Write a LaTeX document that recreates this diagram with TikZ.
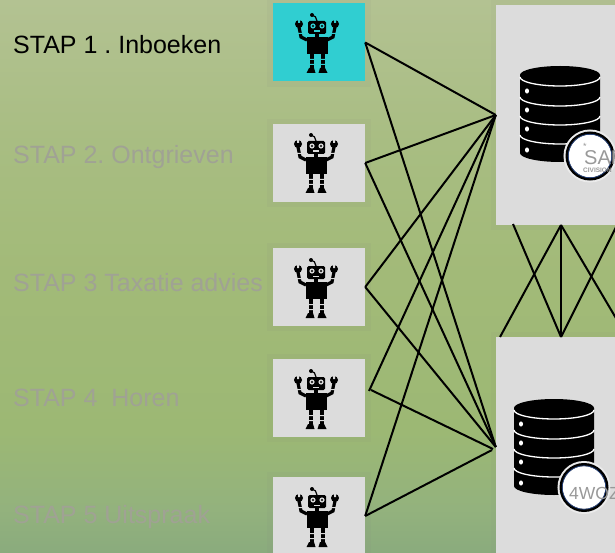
\documentclass[tikz,border=0pt]{standalone}
\usepackage{fontspec}
\setmainfont{Liberation Sans}
\usetikzlibrary{shadows}
\definecolor{stapgrey}{RGB}{220,220,220}
\definecolor{stapcyan}{RGB}{48,206,209}
\definecolor{fadetext}{RGB}{160,162,148}
\definecolor{badgeblue}{RGB}{40,70,130}
\definecolor{backa}{RGB}{138,171,125}
\definecolor{backb}{RGB}{147,178,125}
\definecolor{backc}{RGB}{156,184,116}
\definecolor{backd}{RGB}{162,186,120}
\definecolor{backe}{RGB}{168,189,130}
\definecolor{backf}{RGB}{179,194,146}
\pgfdeclareverticalshading{stapback}{100bp}{
  color(0bp)=(backa);
  color(25bp)=(backa);
  color(29bp)=(backb);
  color(36bp)=(backc);
  color(50bp)=(backd);
  color(62bp)=(backe);
  color(75bp)=(backf);
  color(100bp)=(backf)}
\tikzset{
  stapbox/.style={fill=stapgrey,minimum width=92pt,minimum height=78pt,inner sep=0pt,drop shadow={opacity=0.07,shadow xshift=0pt,shadow yshift=0pt,shadow scale=1.14}},
  dbbox/.style={fill=stapgrey,minimum width=220pt,minimum height=220pt,inner sep=0pt,drop shadow={opacity=0.06,shadow xshift=0pt,shadow yshift=0pt,shadow scale=1.05}},
  staptext/.style={anchor=west,inner sep=0pt,font=\fontsize{25}{28}\selectfont,text=fadetext},
  badgetext/.style={anchor=west,inner sep=0pt,text=black!40},
  link/.style={draw=black,line width=2pt},
  badge/.style={circle,draw=black,line width=3pt,fill=white,minimum size=46pt,inner sep=0pt,preaction={draw=white!92!black,line width=7pt}},
  badgein/.style={circle,draw=badgeblue,line width=0.7pt,minimum size=43.5pt,inner sep=0pt},
  pics/robot/.style={code={
    \fill[black] (-10.5,-6) rectangle (10.5,11);
    \fill[black,rounded corners=1.5pt] (-9,-22) rectangle (9,-9);
    \fill[black] (-2,-9) rectangle (2,-6);
    \draw[black,line width=1.2pt] (0,-22) to[out=100,in=0] (-5,-28);
    \fill[black] (-5,-28) circle (2pt);
    \fill[#1] (-4,-17) circle (2.6pt) (5,-17) circle (2.6pt);
    \fill[black] (-4,-17) circle (1.1pt) (5,-17) circle (1.1pt);
    \fill[#1] (-3,-12.5) rectangle (3,-10.8);
    \draw[black,line width=3.2pt] (-10,-3) -- (-16,-6) -- (-18,-16);
    \draw[black,line width=3.2pt] (10,-3) -- (16,-6) -- (18,-16);
    \fill[black] (-18,-19) circle (4pt) (18,-19) circle (4pt);
    \fill[#1] (-19,-25) rectangle (-17,-20) (17,-25) rectangle (19,-20);
    \fill[#1] (-20,-10) rectangle (-14,-9) (14,-10) rectangle (20,-9);
    \draw[black,line width=4pt] (-5,11) -- (-5,26) (6,11) -- (6,26);
    \fill[#1] (-7,16) rectangle (-3,17) (4,16) rectangle (8,17);
    \fill[#1] (-7,21) rectangle (-3,22) (4,21) rectangle (8,22);
    \fill[black] (-10.5,30) -- (-8,25) -- (-3,25) -- (-1.5,30) -- cycle;
    \fill[black] (1.5,30) -- (3,25) -- (8,25) -- (10.5,30) -- cycle;
  }},
  pics/database/.style={code={
    \fill[black] (-40,-39) -- (-40,39) arc (180:0:40 and 9) -- (40,-39) -- cycle;
    \fill[black] (0,-39) ellipse (40 and 9);
    \foreach \y in {-37,-17,2,21}
      \draw[white,line width=1.3pt] (-40,\y) arc (180:0:40 and 9);
    \foreach \y in {-23,-4,15,36}
      \fill[white] (-33,\y) ellipse (2 and 2.6);
  }}
}
\begin{document}
\begin{tikzpicture}[x=1pt,y=-1pt]
  \frenchspacing
  \useasboundingbox (0,0) rectangle (615,553);
  \clip (0,0) rectangle (615,553);
  % background
  \shade[shading=stapback] (0,0) rectangle (615,553);
  % texts
  \node[staptext,text=black](s1) at (13,45) {STAP 1 . Inboeken};
  \node[staptext](s2) at (13,157) {STAP 2. Ontgrieven};
  \node[staptext](s3) at (13,283) {STAP 3 Taxatie advies};
  \node[staptext](s4) at (13,398) {STAP 4\ \ Horen};
  \node[staptext](s5) at (13,517) {STAP 5 Uitspraak};
  % robots
  \node[stapbox,fill=stapcyan](r1) at (319,42.5) {};
  \node[stapbox](r2) at (319,163) {};
  \node[stapbox](r3) at (319,287) {};
  \node[stapbox](r4) at (319,398) {};
  \node[stapbox](r5) at (319,516) {};
  \pic at (317,43) {robot=stapcyan};
  \pic at (316,163) {robot=stapgrey};
  \pic at (316,288) {robot=stapgrey};
  \pic at (316,399) {robot=stapgrey};
  \pic at (317,517) {robot=stapgrey};
  % databases
  \node[dbbox](db1) at (606,115) {};
  \node[dbbox](db2) at (606,447) {};
  \pic at (560,114) {database};
  \pic at (554,447) {database};
  \node[badge](b1) at (590,156) {};
  \node[badgein] at (b1) {};
  \node[badge](b2) at (584,487.5) {};
  \node[badgein] at (b2) {};
  \node[badgetext,font=\fontsize{20}{24}\selectfont](sap) at (584,158) {SAP};
  \node[badgetext,font=\bfseries\fontsize{6.5}{7}\selectfont](civ) at (583,170) {CIVISION};
  \node[badgetext,font=\fontsize{9}{10}\selectfont](star) at (583,146) {*};
  \node[badgetext,font=\fontsize{17.5}{20}\selectfont](woz) at (569,493) {4WOZ};
  % free line ends
  \coordinate(r4a) at (369,391);
  \coordinate(r4b) at (371,390);
  \coordinate(in2a) at (493,449);
  \coordinate(in2b) at (492,450);
  \coordinate(d1) at (513,224);
  \coordinate(d2) at (561,225);
  \coordinate(d3) at (620,219);
  \coordinate(d4) at (620,325);
  \coordinate(u1) at (500,337);
  \coordinate(u2) at (561,337);
  \draw[link](r1.east)--(db1.west);
  \draw[link](r1.east)--(db2.west);
  \draw[link](r2.east)--(db1.west);
  \draw[link](r2.east)--(db2.west);
  \draw[link](r3.east)--(db1.west);
  \draw[link](r3.east)--(db2.west);
  \draw[link](r4a)--(db1.west);
  \draw[link](r4b)--(in2a);
  \draw[link](r5.east)--(db1.west);
  \draw[link](r5.east)--(in2b);
  \draw[link](d1)--(u2);
  \draw[link](d2)--(u1);
  \draw[link](d2)--(u2);
  \draw[link](d2)--(d4);
  \draw[link](u2)--(d3);
\end{tikzpicture}
\end{document}
